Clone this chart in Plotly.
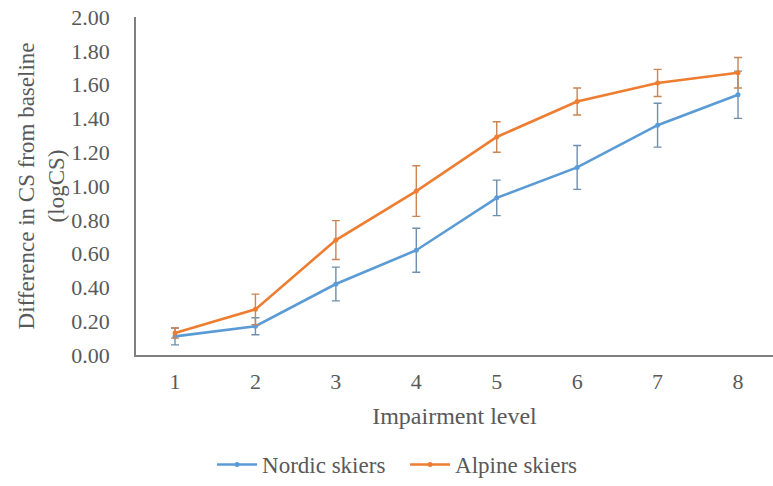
import plotly.graph_objects as go

# Impairment levels and mean change in contrast sensitivity (logCS) with error
levels = [1, 2, 3, 4, 5, 6, 7, 8]
nordic_mean = [0.11, 0.17, 0.42, 0.62, 0.93, 1.11, 1.36, 1.54]
nordic_err = [0.05, 0.05, 0.10, 0.13, 0.105, 0.13, 0.13, 0.14]
alpine_mean = [0.13, 0.27, 0.68, 0.97, 1.29, 1.50, 1.61, 1.67]
alpine_err = [0.03, 0.09, 0.115, 0.15, 0.09, 0.08, 0.08, 0.09]
y_ticks = [0.0, 0.2, 0.4, 0.6, 0.8, 1.0, 1.2, 1.4, 1.6, 1.8, 2.0]

TEXT = "#595959"
FONT = "Liberation Serif"
BLUE = "#5B9BD5"
ORANGE = "#ED7D31"

fig = go.Figure()
for name, mean, err, col, ecol in [
    ("Nordic skiers", nordic_mean, nordic_err, BLUE, "#6E8FAE"),
    ("Alpine skiers", alpine_mean, alpine_err, ORANGE, "#C98555"),
]:
    fig.add_trace(go.Scatter(
        x=levels, y=mean, name=name, mode="lines+markers",
        line=dict(color=col, width=2.6),
        marker=dict(color=col, size=5),
        error_y=dict(type="data", array=err, visible=True,
                     color=ecol, thickness=1.4, width=4),
    ))

fig.update_layout(
    width=773, height=486,
    margin=dict(l=136, r=0, t=17, b=131),
    paper_bgcolor="white", plot_bgcolor="white",
    font=dict(family=FONT, size=22, color=TEXT),
    showlegend=True,
    legend=dict(orientation="h", xref="container", x=0.524, xanchor="center",
                yref="container", y=0.0, yanchor="bottom",
                font=dict(family=FONT, size=23, color=TEXT),
                itemwidth=40, tracegroupgap=0,
                entrywidth=138, entrywidthmode="pixels"),
    xaxis=dict(
        range=[0.515, 8.435], tickvals=levels, ticktext=[str(v) for v in levels],
        showgrid=False, zeroline=False, showline=True, linecolor="#7f7f7f",
        linewidth=1.5, ticks="", ticklabelstandoff=6,
        tickfont=dict(family=FONT, size=22),
        title=dict(text="Impairment level", standoff=14,
                   font=dict(family=FONT, size=24)),
    ),
    yaxis=dict(
        range=[0, 2.0], tickvals=y_ticks, ticktext=[f"{v:.2f}" for v in y_ticks],
        showgrid=False, zeroline=False, showline=True, linecolor="#7f7f7f",
        linewidth=1.5, ticks="", ticklabelstandoff=20,
        tickfont=dict(family=FONT, size=22),
        title=dict(text="Difference in CS from baseline<br>(logCS)",
                   standoff=0, font=dict(family=FONT, size=23)),
    ),
)

fig.write_html("out.html")
